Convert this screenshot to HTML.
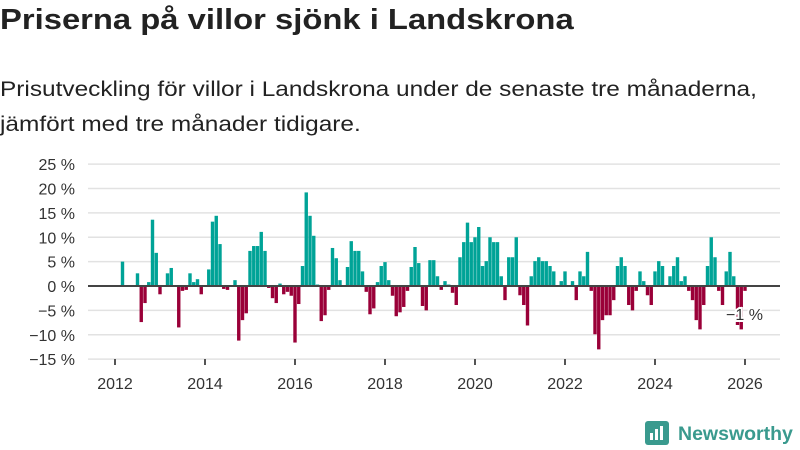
<!DOCTYPE html>
<html><head><meta charset="utf-8"><style>
body{margin:0;background:#fff;width:800px;height:450px;overflow:hidden;font-family:"Liberation Sans",sans-serif;color:#222}
h1{position:absolute;left:0;top:4px;margin:0;font-size:29px;font-weight:bold;transform:scaleX(1.13);transform-origin:0 0;white-space:nowrap}
p{position:absolute;left:0;top:72px;margin:0;font-size:21.5px;line-height:35px;color:#222;transform:scaleX(1.135);transform-origin:0 0;white-space:nowrap}
svg{position:absolute;left:0;top:0}
</style></head><body>
<h1>Priserna på villor sjönk i Landskrona</h1>
<p>Prisutveckling för villor i Landskrona under de senaste tre månaderna,<br>jämfört med tre månader tidigare.</p>
<svg id="chart" width="800" height="450"></svg>
<script>
const startYear = 2012;
const values = [0,0,5,0,0,0,2.6,-7.4,-3.5,0.8,13.6,6.8,-1.7,0,2.6,3.7,0,-8.5,-1,-0.8,2.6,0.8,1.4,-1.7,0,3.4,13.2,14.4,8.6,-0.6,-0.8,0,1.2,-11.2,-7,-5.6,7.2,8.2,8.2,11.1,7.2,-0.4,-2.5,-3.5,0.5,-1.7,-1.2,-2,-11.6,-3.7,4.1,19.2,14.4,10.3,0.3,-7.2,-6,-0.8,7.8,5.7,1.2,0,3.9,9.2,7.2,7.2,3,-1.2,-5.8,-4.6,0.8,4.1,4.9,1.2,-2,-6.2,-5.4,-4.3,-1,3.9,8,4.7,-4.1,-5,5.3,5.3,2,-0.8,1,0.3,-1.4,-3.9,5.9,9,13,9,10,12.1,4.1,5.1,10,9,9,2,-2.9,5.9,5.9,10,-1.9,-3.9,-8.1,2,5.1,5.9,5.1,5.1,4.1,3,0,1,3,0,1,-2.9,3,2,7,-1,-9.9,-13,-7,-6,-6,-2.9,4.1,5.9,4.1,-3.9,-5,-1,3,1,-1.9,-3.9,3,5.1,4.1,0,2,4.1,5.9,1,2,-1,-2.9,-7,-8.9,-3.9,4.1,10,5.9,-1,-3.9,3,7,2,-8,-8.9,-1];
const yTicks = [25,20,15,10,5,0,-5,-10,-15];
const xTicks = [2012,2014,2016,2018,2020,2022,2024,2026];
const svg = document.getElementById('chart');
const NS='http://www.w3.org/2000/svg';
const x = yr => 115 + (yr-2012)*45;
const y = v => 286 - v*4.875;
function mk(tag, attrs){const e=document.createElementNS(NS,tag);for(const k in attrs)e.setAttribute(k,attrs[k]);svg.appendChild(e);return e;}
yTicks.forEach(t=>{
  const g=mk('line',{x1:88,x2:780,y1:y(t),y2:y(t),stroke:'#e2e2e2','stroke-width':1.5});
  
  
  const l=mk('text',{x:75,y:y(t)+6,'text-anchor':'end','font-size':16,fill:'#333','font-family':'Liberation Sans, sans-serif'});
  l.textContent=(t<0?'−'+(-t):t)+' %';
  
  
});
values.forEach((v,i)=>{
  if(v===0)return;
  const cx=x(startYear+i/12);
  const r=mk('rect',{x:cx-1.7,width:3.4,y:Math.min(y(v),y(0)),height:Math.abs(y(v)-y(0)),fill:v>0?'#00a397':'#9a0038'});
  
  
});
const z=mk('line',{x1:88,x2:780,y1:y(0),y2:y(0),stroke:'#444','stroke-width':2});


xTicks.forEach(t=>{
  const k=mk('line',{x1:x(t),x2:x(t),y1:359,y2:365,stroke:'#555','stroke-width':2});
  
  
  const l=mk('text',{x:x(t),y:389,'text-anchor':'middle','font-size':16,fill:'#333','font-family':'Liberation Sans, sans-serif'});
  l.textContent=t;
  
  
});
const last=values[values.length-1];
const a=mk('text',{x:726,y:y(last)+29,'font-size':16,fill:'#333',stroke:'#fff','stroke-width':4,'paint-order':'stroke','font-family':'Liberation Sans, sans-serif'});
a.textContent='−1 %';


</script>
<svg width="800" height="450" style="pointer-events:none">
<rect x="645" y="421" width="24" height="24" rx="3" fill="#3a9a8e"/>
<rect x="650" y="433" width="3" height="7" fill="#fff"/><rect x="655" y="429" width="3" height="11" fill="#fff"/><rect x="660" y="426" width="3" height="14" fill="#fff"/>
<text x="678" y="440" font-size="19.5" font-weight="bold" fill="#3a9a8e" font-family="Liberation Sans, sans-serif">Newsworthy</text>
</svg>
</body></html>
